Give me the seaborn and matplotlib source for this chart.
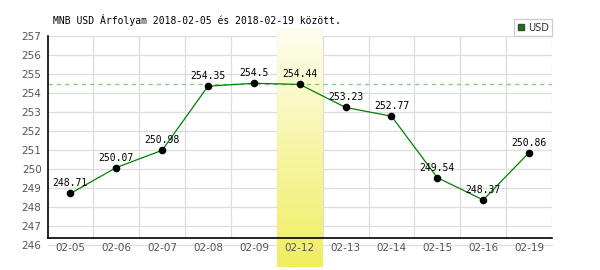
import numpy as np
import pandas as pd
import matplotlib
matplotlib.use("Agg")
import matplotlib.pyplot as plt
import seaborn as sns
from matplotlib.lines import Line2D
from matplotlib.colors import LinearSegmentedColormap

dates = ["02-05", "02-06", "02-07", "02-08", "02-09", "02-12",
         "02-13", "02-14", "02-15", "02-16", "02-19"]
values = [248.71, 250.07, 250.98, 254.35, 254.5, 254.44,
          253.23, 252.77, 249.54, 248.37, 250.86]
highlight = "02-12"
ref_value = 254.44
yticks = list(range(247, 258))
title = "MNB USD Árfolyam 2018-02-05 és 2018-02-19 között."
series_name = "USD"

df = pd.DataFrame({"date": dates, "value": values})

sns.set_style("white")
plt.rcParams["font.family"] = ["DejaVu Sans"]

fig = plt.figure(figsize=(6, 2.7), dpi=100)
ax = fig.add_axes([47.5 / 600, 1 - 238 / 270, (552 - 47.5) / 600, (238 - 35.7) / 270])
ax.set_facecolor("none")
ax.set_axisbelow(False)

ymin, ymax = 246.37, 257.0
n = len(dates)
grid_c = "#dddddd"

# grid lines drawn manually beneath the highlight band
for yv in yticks:
    ax.axhline(yv, color=grid_c, lw=0.9, zorder=0.3)
ax.axhline(246, color=grid_c, lw=0.9, zorder=0.3, clip_on=False)
for k in range(1, n + 1):
    ax.axvline(k - 0.5, color=grid_c, lw=0.9, zorder=0.3)

# highlight band with vertical gradient
hi = dates.index(highlight)
cmap = LinearSegmentedColormap.from_list("band", ["#fefdf0", "#f0ee60"])
grad = np.linspace(0, 1, 256).reshape(-1, 1)
px = 19.03
top_v = ymax + (35.7 - 28.7) / px
bot_v = ymax - (266.7 - 35.7) / px
ax.imshow(grad, cmap=cmap, extent=[hi - 0.5, hi + 0.5, bot_v, top_v],
          origin="upper", aspect="auto", zorder=1, clip_on=False)

# reference dashed line
ax.axhline(ref_value, color="#88cc88", lw=1.0, ls=(0, (3, 3)), zorder=1.5)

sns.lineplot(data=df, x="date", y="value", sort=False, color="#008000",
             lw=0.9, ax=ax, zorder=2)
sns.scatterplot(data=df, x="date", y="value", color="black", s=30,
                edgecolor="black", linewidth=0, ax=ax, zorder=3)

for i, v in enumerate(values):
    ax.annotate(f"{v:g}", xy=(i, v), xytext=(0, 10), textcoords="offset pixels",
                ha="center", va="center", fontsize=7, family="DejaVu Sans Mono",
                color="black", zorder=4)

ax.set_xlim(-0.5, n - 0.5)
ax.set_ylim(ymin, ymax)
ax.set_yticks(yticks)
ax.set_xticks(range(n))
ax.set_xticklabels(dates)
ax.set_xlabel("")
ax.set_ylabel("")
ax.grid(False)
ax.tick_params(axis="both", length=0, labelsize=7.5, colors="#555555")
ax.tick_params(axis="y", pad=4.3)
ax.tick_params(axis="x", pad=3.8)
ax.annotate("246", xy=(0, 246), xycoords=("axes fraction", "data"),
            xytext=(-6, -1), textcoords="offset pixels", ha="right", va="center",
            fontsize=7.5, color="#555555", annotation_clip=False)

for s in ["top", "right"]:
    ax.spines[s].set_visible(False)
for s in ["left", "bottom"]:
    ax.spines[s].set_color("black")
    ax.spines[s].set_linewidth(1.2)
    ax.spines[s].set_zorder(2.5)

fig.text(53 / 600, 1 - 20 / 270, title, ha="left", va="center",
         fontsize=7, family="DejaVu Sans Mono", color="black")

handle = Line2D([], [], marker="s", color="#008000", markeredgecolor="#444444",
                markersize=5, linestyle="none")
leg = ax.legend([handle], [series_name], loc="lower right",
                bbox_to_anchor=(552 / 600, 1 - 36 / 270), bbox_transform=fig.transFigure,
                frameon=True, fancybox=False, framealpha=1, edgecolor="#cccccc",
                fontsize=7, handlelength=0.8, handletextpad=0.3,
                borderpad=0.35, borderaxespad=0)
for t in leg.get_texts():
    t.set_color("#333333")
leg.get_frame().set_linewidth(0.9)

fig.savefig("out.png", dpi=100)
